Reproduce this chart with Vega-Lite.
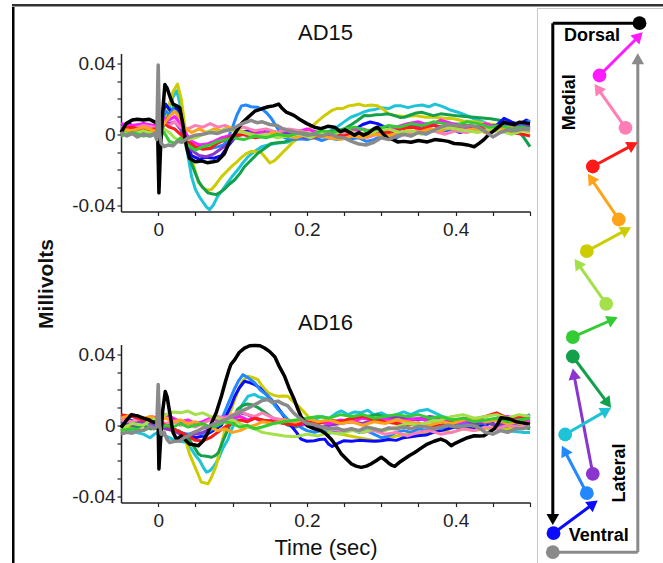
{
"$schema": "https://vega.github.io/schema/vega-lite/v6.json",
"background": "white",
"padding": {"left": 12, "top": 4, "right": 0, "bottom": 0},
"config": {
 "view": {"stroke": null},
 "title": {"font": "Liberation Sans", "fontSize": 22, "fontWeight": "normal", "color": "#111", "offset": 9},
 "axis": {"domainColor": "#222", "domainWidth": 1.5, "tickColor": "#222", "tickWidth": 1.2, "tickSize": 4, "labelFont": "Liberation Sans", "labelFontSize": 19, "labelColor": "#222", "grid": false, "labelOverlap": false, "labelFlush": false, "titleFont": "Liberation Sans", "titleColor": "#111"}
},
"datasets": {
"ad15": [
{"s":"k","t":-0.05,"v":0.001},{"s":"k","t":-0.043,"v":0.006},{"s":"k","t":-0.035,"v":0.008},{"s":"k","t":-0.028,"v":0.0085},{"s":"k","t":-0.02,"v":0.008},{"s":"k","t":-0.012,"v":0.0085},{"s":"k","t":-0.005,"v":0.007},{"s":"k","t":-0.001,"v":0.006},{"s":"k","t":0.001,"v":-0.033},{"s":"k","t":0.003,"v":-0.01},{"s":"k","t":0.006,"v":0.012},{"s":"k","t":0.009,"v":0.028},{"s":"k","t":0.012,"v":0.026},{"s":"k","t":0.016,"v":0.021},{"s":"k","t":0.02,"v":0.017},{"s":"k","t":0.025,"v":0.016},{"s":"k","t":0.029,"v":0.015},{"s":"k","t":0.033,"v":0.006},{"s":"k","t":0.038,"v":-0.007},{"s":"k","t":0.042,"v":-0.0135},{"s":"k","t":0.05,"v":-0.0155},{"s":"k","t":0.058,"v":-0.015},{"s":"k","t":0.066,"v":-0.016},{"s":"k","t":0.074,"v":-0.0155},{"s":"k","t":0.08,"v":-0.015},{"s":"k","t":0.089,"v":-0.011},{"s":"k","t":0.096,"v":-0.004},{"s":"k","t":0.104,"v":0.001},{"s":"k","t":0.112,"v":0.006},{"s":"k","t":0.122,"v":0.01},{"s":"k","t":0.13,"v":0.013},{"s":"k","t":0.14,"v":0.0145},{"s":"k","t":0.148,"v":0.0155},{"s":"k","t":0.155,"v":0.016},{"s":"k","t":0.162,"v":0.017},{"s":"k","t":0.167,"v":0.0145},{"s":"k","t":0.172,"v":0.0125},{"s":"k","t":0.178,"v":0.0115},{"s":"k","t":0.183,"v":0.0105},{"s":"k","t":0.19,"v":0.0085},{"s":"k","t":0.2,"v":0.006},{"s":"k","t":0.21,"v":0.004},{"s":"k","t":0.219,"v":0.0032},{"s":"k","t":0.228,"v":0.0045},{"s":"k","t":0.237,"v":0.004},{"s":"k","t":0.245,"v":0.0015},{"s":"k","t":0.251,"v":0.0025},{"s":"k","t":0.258,"v":0.001},{"s":"k","t":0.264,"v":-0.0006},{"s":"k","t":0.27,"v":0.001},{"s":"k","t":0.276,"v":-0.0005},{"s":"k","t":0.282,"v":0.0005},{"s":"k","t":0.29,"v":0.003},{"s":"k","t":0.295,"v":0.004},{"s":"k","t":0.302,"v":0.0005},{"s":"k","t":0.309,"v":-0.0025},{"s":"k","t":0.316,"v":-0.003},{"s":"k","t":0.322,"v":-0.0043},{"s":"k","t":0.33,"v":-0.004},{"s":"k","t":0.34,"v":-0.0045},{"s":"k","t":0.35,"v":-0.0035},{"s":"k","t":0.362,"v":-0.0043},{"s":"k","t":0.372,"v":-0.003},{"s":"k","t":0.38,"v":-0.0033},{"s":"k","t":0.39,"v":-0.004},{"s":"k","t":0.398,"v":-0.0052},{"s":"k","t":0.408,"v":-0.0055},{"s":"k","t":0.416,"v":-0.006},{"s":"k","t":0.425,"v":-0.007},{"s":"k","t":0.432,"v":-0.005},{"s":"k","t":0.438,"v":-0.003},{"s":"k","t":0.445,"v":0.0},{"s":"k","t":0.452,"v":0.0022},{"s":"k","t":0.46,"v":0.005},{"s":"k","t":0.465,"v":0.0068},{"s":"k","t":0.472,"v":0.006},{"s":"k","t":0.479,"v":0.0055},{"s":"k","t":0.486,"v":0.0068},{"s":"k","t":0.492,"v":0.0065},{"s":"k","t":0.5,"v":0.006},
{"s":"gy","t":-0.05,"v":0.001},{"s":"gy","t":-0.042,"v":-0.001},{"s":"gy","t":-0.035,"v":0.0005},{"s":"gy","t":-0.028,"v":-0.0015},{"s":"gy","t":-0.02,"v":0.0},{"s":"gy","t":-0.012,"v":-0.001},{"s":"gy","t":-0.005,"v":0.0005},{"s":"gy","t":-0.002,"v":-0.003},{"s":"gy","t":0.0,"v":0.039},{"s":"gy","t":0.002,"v":0.0},{"s":"gy","t":0.004,"v":-0.005},{"s":"gy","t":0.008,"v":-0.007},{"s":"gy","t":0.014,"v":-0.006},{"s":"gy","t":0.02,"v":-0.0065},{"s":"gy","t":0.026,"v":-0.004},{"s":"gy","t":0.032,"v":-0.0045},{"s":"gy","t":0.04,"v":-0.002},{"s":"gy","t":0.05,"v":-0.0005},{"s":"gy","t":0.06,"v":0.0},{"s":"gy","t":0.07,"v":0.001},{"s":"gy","t":0.08,"v":0.0005},{"s":"gy","t":0.09,"v":0.002},{"s":"gy","t":0.1,"v":0.003},{"s":"gy","t":0.108,"v":0.005},{"s":"gy","t":0.116,"v":0.0065},{"s":"gy","t":0.125,"v":0.0078},{"s":"gy","t":0.133,"v":0.0065},{"s":"gy","t":0.14,"v":0.007},{"s":"gy","t":0.15,"v":0.0055},{"s":"gy","t":0.16,"v":0.005},{"s":"gy","t":0.168,"v":0.003},{"s":"gy","t":0.175,"v":0.0022},{"s":"gy","t":0.185,"v":0.001},{"s":"gy","t":0.192,"v":0.0004},{"s":"gy","t":0.2,"v":-0.0005},{"s":"gy","t":0.21,"v":0.0},{"s":"gy","t":0.22,"v":-0.001},{"s":"gy","t":0.23,"v":0.0005},{"s":"gy","t":0.24,"v":-0.0015},{"s":"gy","t":0.25,"v":-0.002},{"s":"gy","t":0.26,"v":-0.004},{"s":"gy","t":0.27,"v":-0.0055},{"s":"gy","t":0.28,"v":-0.006},{"s":"gy","t":0.29,"v":-0.0045},{"s":"gy","t":0.3,"v":-0.002},{"s":"gy","t":0.31,"v":-0.003},{"s":"gy","t":0.32,"v":-0.001},{"s":"gy","t":0.33,"v":0.0},{"s":"gy","t":0.34,"v":-0.001},{"s":"gy","t":0.35,"v":0.001},{"s":"gy","t":0.36,"v":0.0005},{"s":"gy","t":0.37,"v":0.002},{"s":"gy","t":0.38,"v":0.004},{"s":"gy","t":0.39,"v":0.0055},{"s":"gy","t":0.4,"v":0.005},{"s":"gy","t":0.41,"v":0.0045},{"s":"gy","t":0.42,"v":0.005},{"s":"gy","t":0.43,"v":0.004},{"s":"gy","t":0.44,"v":0.0015},{"s":"gy","t":0.45,"v":-0.0015},{"s":"gy","t":0.46,"v":0.001},{"s":"gy","t":0.47,"v":0.0025},{"s":"gy","t":0.48,"v":0.002},{"s":"gy","t":0.49,"v":0.003},{"s":"gy","t":0.5,"v":0.0025},
{"s":"cy","t":-0.05,"v":0.0},{"s":"cy","t":-0.04,"v":0.002},{"s":"cy","t":-0.03,"v":0.001},{"s":"cy","t":-0.02,"v":0.003},{"s":"cy","t":-0.01,"v":0.001},{"s":"cy","t":0.0,"v":0.002},{"s":"cy","t":0.005,"v":0.004},{"s":"cy","t":0.01,"v":0.009},{"s":"cy","t":0.015,"v":0.015},{"s":"cy","t":0.02,"v":0.021},{"s":"cy","t":0.025,"v":0.0245},{"s":"cy","t":0.03,"v":0.016},{"s":"cy","t":0.036,"v":0.0},{"s":"cy","t":0.04,"v":-0.012},{"s":"cy","t":0.045,"v":-0.024},{"s":"cy","t":0.05,"v":-0.031},{"s":"cy","t":0.055,"v":-0.035},{"s":"cy","t":0.06,"v":-0.038},{"s":"cy","t":0.065,"v":-0.041},{"s":"cy","t":0.069,"v":-0.0425},{"s":"cy","t":0.074,"v":-0.04},{"s":"cy","t":0.08,"v":-0.035},{"s":"cy","t":0.087,"v":-0.031},{"s":"cy","t":0.094,"v":-0.027},{"s":"cy","t":0.1,"v":-0.0235},{"s":"cy","t":0.107,"v":-0.02},{"s":"cy","t":0.114,"v":-0.016},{"s":"cy","t":0.121,"v":-0.0126},{"s":"cy","t":0.13,"v":-0.0095},{"s":"cy","t":0.139,"v":-0.007},{"s":"cy","t":0.148,"v":-0.006},{"s":"cy","t":0.157,"v":-0.0052},{"s":"cy","t":0.166,"v":-0.0048},{"s":"cy","t":0.175,"v":-0.0043},{"s":"cy","t":0.184,"v":-0.003},{"s":"cy","t":0.192,"v":-0.0024},{"s":"cy","t":0.2,"v":-0.0015},{"s":"cy","t":0.21,"v":-0.0005},{"s":"cy","t":0.22,"v":0.0},{"s":"cy","t":0.23,"v":0.0015},{"s":"cy","t":0.24,"v":0.004},{"s":"cy","t":0.25,"v":0.007},{"s":"cy","t":0.259,"v":0.0096},{"s":"cy","t":0.268,"v":0.011},{"s":"cy","t":0.276,"v":0.0125},{"s":"cy","t":0.284,"v":0.0135},{"s":"cy","t":0.292,"v":0.014},{"s":"cy","t":0.3,"v":0.015},{"s":"cy","t":0.31,"v":0.0145},{"s":"cy","t":0.318,"v":0.016},{"s":"cy","t":0.327,"v":0.016},{"s":"cy","t":0.336,"v":0.015},{"s":"cy","t":0.345,"v":0.016},{"s":"cy","t":0.355,"v":0.0165},{"s":"cy","t":0.364,"v":0.0155},{"s":"cy","t":0.372,"v":0.017},{"s":"cy","t":0.38,"v":0.016},{"s":"cy","t":0.385,"v":0.0152},{"s":"cy","t":0.394,"v":0.0135},{"s":"cy","t":0.403,"v":0.0124},{"s":"cy","t":0.412,"v":0.011},{"s":"cy","t":0.425,"v":0.0087},{"s":"cy","t":0.434,"v":0.0075},{"s":"cy","t":0.443,"v":0.0059},{"s":"cy","t":0.452,"v":0.005},{"s":"cy","t":0.461,"v":0.0041},{"s":"cy","t":0.47,"v":0.0035},{"s":"cy","t":0.48,"v":0.004},{"s":"cy","t":0.49,"v":0.0045},{"s":"cy","t":0.5,"v":0.004},
{"s":"yl","t":-0.05,"v":0.002},{"s":"yl","t":-0.04,"v":0.001},{"s":"yl","t":-0.03,"v":0.003},{"s":"yl","t":-0.02,"v":0.001},{"s":"yl","t":-0.01,"v":0.002},{"s":"yl","t":0.0,"v":0.001},{"s":"yl","t":0.005,"v":0.004},{"s":"yl","t":0.01,"v":0.01},{"s":"yl","t":0.015,"v":0.017},{"s":"yl","t":0.02,"v":0.024},{"s":"yl","t":0.026,"v":0.0283},{"s":"yl","t":0.031,"v":0.02},{"s":"yl","t":0.036,"v":0.004},{"s":"yl","t":0.04,"v":-0.006},{"s":"yl","t":0.045,"v":-0.0144},{"s":"yl","t":0.05,"v":-0.021},{"s":"yl","t":0.054,"v":-0.027},{"s":"yl","t":0.059,"v":-0.0295},{"s":"yl","t":0.063,"v":-0.031},{"s":"yl","t":0.068,"v":-0.0315},{"s":"yl","t":0.072,"v":-0.031},{"s":"yl","t":0.078,"v":-0.028},{"s":"yl","t":0.085,"v":-0.024},{"s":"yl","t":0.092,"v":-0.021},{"s":"yl","t":0.099,"v":-0.018},{"s":"yl","t":0.106,"v":-0.0155},{"s":"yl","t":0.112,"v":-0.013},{"s":"yl","t":0.118,"v":-0.011},{"s":"yl","t":0.125,"v":-0.0096},{"s":"yl","t":0.132,"v":-0.0098},{"s":"yl","t":0.139,"v":-0.0106},{"s":"yl","t":0.145,"v":-0.0135},{"s":"yl","t":0.15,"v":-0.0161},{"s":"yl","t":0.156,"v":-0.015},{"s":"yl","t":0.161,"v":-0.013},{"s":"yl","t":0.168,"v":-0.01},{"s":"yl","t":0.175,"v":-0.0071},{"s":"yl","t":0.181,"v":-0.0045},{"s":"yl","t":0.188,"v":-0.0024},{"s":"yl","t":0.197,"v":0.0008},{"s":"yl","t":0.206,"v":0.0041},{"s":"yl","t":0.215,"v":0.0075},{"s":"yl","t":0.224,"v":0.0106},{"s":"yl","t":0.233,"v":0.0133},{"s":"yl","t":0.24,"v":0.0145},{"s":"yl","t":0.248,"v":0.0145},{"s":"yl","t":0.256,"v":0.016},{"s":"yl","t":0.264,"v":0.0165},{"s":"yl","t":0.27,"v":0.017},{"s":"yl","t":0.278,"v":0.016},{"s":"yl","t":0.286,"v":0.0165},{"s":"yl","t":0.295,"v":0.0161},{"s":"yl","t":0.303,"v":0.014},{"s":"yl","t":0.31,"v":0.0115},{"s":"yl","t":0.318,"v":0.0106},{"s":"yl","t":0.33,"v":0.01},{"s":"yl","t":0.345,"v":0.0105},{"s":"yl","t":0.36,"v":0.0096},{"s":"yl","t":0.372,"v":0.0096},{"s":"yl","t":0.385,"v":0.009},{"s":"yl","t":0.398,"v":0.0087},{"s":"yl","t":0.41,"v":0.0075},{"s":"yl","t":0.425,"v":0.007},{"s":"yl","t":0.443,"v":0.0059},{"s":"yl","t":0.46,"v":0.005},{"s":"yl","t":0.475,"v":0.0045},{"s":"yl","t":0.49,"v":0.004},{"s":"yl","t":0.5,"v":0.004},
{"s":"dg","t":-0.05,"v":0.002},{"s":"dg","t":-0.04,"v":0.0},{"s":"dg","t":-0.03,"v":0.002},{"s":"dg","t":-0.02,"v":0.001},{"s":"dg","t":-0.01,"v":-0.001},{"s":"dg","t":0.0,"v":0.001},{"s":"dg","t":0.005,"v":0.003},{"s":"dg","t":0.01,"v":0.007},{"s":"dg","t":0.015,"v":0.011},{"s":"dg","t":0.02,"v":0.015},{"s":"dg","t":0.025,"v":0.014},{"s":"dg","t":0.03,"v":0.008},{"s":"dg","t":0.035,"v":-0.002},{"s":"dg","t":0.04,"v":-0.009},{"s":"dg","t":0.045,"v":-0.0167},{"s":"dg","t":0.05,"v":-0.022},{"s":"dg","t":0.055,"v":-0.027},{"s":"dg","t":0.06,"v":-0.03},{"s":"dg","t":0.067,"v":-0.033},{"s":"dg","t":0.072,"v":-0.0335},{"s":"dg","t":0.078,"v":-0.034},{"s":"dg","t":0.084,"v":-0.0325},{"s":"dg","t":0.089,"v":-0.031},{"s":"dg","t":0.096,"v":-0.028},{"s":"dg","t":0.103,"v":-0.0256},{"s":"dg","t":0.11,"v":-0.022},{"s":"dg","t":0.116,"v":-0.0183},{"s":"dg","t":0.125,"v":-0.0145},{"s":"dg","t":0.134,"v":-0.0107},{"s":"dg","t":0.143,"v":-0.008},{"s":"dg","t":0.152,"v":-0.0052},{"s":"dg","t":0.161,"v":-0.0047},{"s":"dg","t":0.17,"v":-0.0043},{"s":"dg","t":0.179,"v":-0.003},{"s":"dg","t":0.188,"v":-0.0024},{"s":"dg","t":0.199,"v":-0.001},{"s":"dg","t":0.21,"v":0.0004},{"s":"dg","t":0.22,"v":0.001},{"s":"dg","t":0.23,"v":0.0015},{"s":"dg","t":0.24,"v":0.002},{"s":"dg","t":0.25,"v":0.003},{"s":"dg","t":0.26,"v":0.0055},{"s":"dg","t":0.268,"v":0.0078},{"s":"dg","t":0.277,"v":0.0106},{"s":"dg","t":0.285,"v":0.0105},{"s":"dg","t":0.293,"v":0.011},{"s":"dg","t":0.301,"v":0.0112},{"s":"dg","t":0.309,"v":0.0115},{"s":"dg","t":0.318,"v":0.0105},{"s":"dg","t":0.325,"v":0.0095},{"s":"dg","t":0.331,"v":0.0096},{"s":"dg","t":0.34,"v":0.011},{"s":"dg","t":0.347,"v":0.012},{"s":"dg","t":0.354,"v":0.0124},{"s":"dg","t":0.362,"v":0.0115},{"s":"dg","t":0.37,"v":0.0105},{"s":"dg","t":0.38,"v":0.0115},{"s":"dg","t":0.39,"v":0.011},{"s":"dg","t":0.4,"v":0.0105},{"s":"dg","t":0.412,"v":0.01},{"s":"dg","t":0.425,"v":0.0096},{"s":"dg","t":0.436,"v":0.0092},{"s":"dg","t":0.447,"v":0.0088},{"s":"dg","t":0.461,"v":0.0078},{"s":"dg","t":0.47,"v":0.006},{"s":"dg","t":0.479,"v":0.004},{"s":"dg","t":0.486,"v":0.001},{"s":"dg","t":0.492,"v":-0.002},{"s":"dg","t":0.5,"v":-0.007},
{"s":"db","t":-0.05,"v":0.005},{"s":"db","t":-0.04,"v":0.006},{"s":"db","t":-0.03,"v":0.004},{"s":"db","t":-0.02,"v":0.006},{"s":"db","t":-0.01,"v":0.005},{"s":"db","t":0.0,"v":0.004},{"s":"db","t":0.005,"v":0.01},{"s":"db","t":0.01,"v":0.017},{"s":"db","t":0.015,"v":0.014},{"s":"db","t":0.02,"v":0.012},{"s":"db","t":0.025,"v":0.0155},{"s":"db","t":0.03,"v":0.012},{"s":"db","t":0.035,"v":0.002},{"s":"db","t":0.04,"v":-0.007},{"s":"db","t":0.045,"v":-0.012},{"s":"db","t":0.055,"v":-0.014},{"s":"db","t":0.065,"v":-0.013},{"s":"db","t":0.075,"v":-0.0135},{"s":"db","t":0.085,"v":-0.012},{"s":"db","t":0.095,"v":-0.006},{"s":"db","t":0.105,"v":-0.001},{"s":"db","t":0.115,"v":0.0015},{"s":"db","t":0.125,"v":0.002},{"s":"db","t":0.135,"v":0.001},{"s":"db","t":0.145,"v":0.0025},{"s":"db","t":0.155,"v":0.0015},{"s":"db","t":0.165,"v":0.0},{"s":"db","t":0.175,"v":-0.0015},{"s":"db","t":0.185,"v":-0.001},{"s":"db","t":0.195,"v":-0.002},{"s":"db","t":0.205,"v":-0.001},{"s":"db","t":0.215,"v":-0.002},{"s":"db","t":0.225,"v":0.0},{"s":"db","t":0.235,"v":-0.001},{"s":"db","t":0.245,"v":-0.002},{"s":"db","t":0.255,"v":0.0005},{"s":"db","t":0.265,"v":0.003},{"s":"db","t":0.275,"v":0.0055},{"s":"db","t":0.285,"v":0.0069},{"s":"db","t":0.295,"v":0.006},{"s":"db","t":0.305,"v":0.004},{"s":"db","t":0.315,"v":0.002},{"s":"db","t":0.325,"v":0.003},{"s":"db","t":0.335,"v":0.004},{"s":"db","t":0.345,"v":0.005},{"s":"db","t":0.355,"v":0.0055},{"s":"db","t":0.365,"v":0.006},{"s":"db","t":0.375,"v":0.0045},{"s":"db","t":0.385,"v":0.002},{"s":"db","t":0.395,"v":0.003},{"s":"db","t":0.405,"v":0.001},{"s":"db","t":0.415,"v":0.002},{"s":"db","t":0.425,"v":0.004},{"s":"db","t":0.435,"v":0.002},{"s":"db","t":0.445,"v":0.004},{"s":"db","t":0.455,"v":0.005},{"s":"db","t":0.465,"v":0.009},{"s":"db","t":0.475,"v":0.007},{"s":"db","t":0.485,"v":0.0055},{"s":"db","t":0.495,"v":0.008},{"s":"db","t":0.5,"v":0.007},
{"s":"bl","t":-0.05,"v":0.003},{"s":"bl","t":-0.04,"v":0.004},{"s":"bl","t":-0.03,"v":0.002},{"s":"bl","t":-0.02,"v":0.004},{"s":"bl","t":-0.01,"v":0.003},{"s":"bl","t":0.0,"v":0.002},{"s":"bl","t":0.005,"v":0.007},{"s":"bl","t":0.01,"v":0.013},{"s":"bl","t":0.015,"v":0.011},{"s":"bl","t":0.02,"v":0.014},{"s":"bl","t":0.025,"v":0.012},{"s":"bl","t":0.03,"v":0.006},{"s":"bl","t":0.035,"v":-0.001},{"s":"bl","t":0.04,"v":-0.005},{"s":"bl","t":0.05,"v":-0.008},{"s":"bl","t":0.06,"v":-0.0075},{"s":"bl","t":0.07,"v":-0.008},{"s":"bl","t":0.08,"v":-0.007},{"s":"bl","t":0.088,"v":-0.006},{"s":"bl","t":0.093,"v":-0.003},{"s":"bl","t":0.1,"v":0.004},{"s":"bl","t":0.106,"v":0.011},{"s":"bl","t":0.112,"v":0.016},{"s":"bl","t":0.118,"v":0.0165},{"s":"bl","t":0.125,"v":0.0155},{"s":"bl","t":0.134,"v":0.0152},{"s":"bl","t":0.14,"v":0.014},{"s":"bl","t":0.146,"v":0.012},{"s":"bl","t":0.152,"v":0.009},{"s":"bl","t":0.158,"v":0.005},{"s":"bl","t":0.164,"v":0.001},{"s":"bl","t":0.17,"v":-0.002},{"s":"bl","t":0.18,"v":-0.003},{"s":"bl","t":0.19,"v":-0.0025},{"s":"bl","t":0.2,"v":-0.003},{"s":"bl","t":0.21,"v":-0.002},{"s":"bl","t":0.22,"v":-0.0035},{"s":"bl","t":0.23,"v":-0.002},{"s":"bl","t":0.24,"v":-0.003},{"s":"bl","t":0.25,"v":-0.001},{"s":"bl","t":0.26,"v":-0.0025},{"s":"bl","t":0.27,"v":-0.002},{"s":"bl","t":0.28,"v":-0.004},{"s":"bl","t":0.29,"v":-0.003},{"s":"bl","t":0.3,"v":-0.001},{"s":"bl","t":0.31,"v":0.0},{"s":"bl","t":0.32,"v":-0.002},{"s":"bl","t":0.33,"v":0.0},{"s":"bl","t":0.34,"v":0.001},{"s":"bl","t":0.35,"v":0.0015},{"s":"bl","t":0.36,"v":0.0},{"s":"bl","t":0.37,"v":0.002},{"s":"bl","t":0.38,"v":0.001},{"s":"bl","t":0.39,"v":0.003},{"s":"bl","t":0.4,"v":0.002},{"s":"bl","t":0.41,"v":0.0015},{"s":"bl","t":0.42,"v":0.003},{"s":"bl","t":0.43,"v":0.002},{"s":"bl","t":0.44,"v":0.004},{"s":"bl","t":0.45,"v":0.003},{"s":"bl","t":0.46,"v":0.005},{"s":"bl","t":0.47,"v":0.004},{"s":"bl","t":0.48,"v":0.005},{"s":"bl","t":0.49,"v":0.006},{"s":"bl","t":0.5,"v":0.0075},
{"s":"pu","t":-0.05,"v":0.004},{"s":"pu","t":-0.035,"v":0.005},{"s":"pu","t":-0.02,"v":0.003},{"s":"pu","t":-0.005,"v":0.004},{"s":"pu","t":0.0,"v":0.003},{"s":"pu","t":0.008,"v":0.008},{"s":"pu","t":0.015,"v":0.006},{"s":"pu","t":0.022,"v":0.007},{"s":"pu","t":0.03,"v":0.003},{"s":"pu","t":0.037,"v":-0.004},{"s":"pu","t":0.045,"v":-0.009},{"s":"pu","t":0.055,"v":-0.012},{"s":"pu","t":0.065,"v":-0.0126},{"s":"pu","t":0.075,"v":-0.011},{"s":"pu","t":0.085,"v":-0.008},{"s":"pu","t":0.095,"v":-0.005},{"s":"pu","t":0.105,"v":-0.001},{"s":"pu","t":0.115,"v":0.0},{"s":"pu","t":0.125,"v":0.001},{"s":"pu","t":0.14,"v":0.0},{"s":"pu","t":0.155,"v":-0.001},{"s":"pu","t":0.17,"v":0.001},{"s":"pu","t":0.185,"v":-0.001},{"s":"pu","t":0.2,"v":-0.002},{"s":"pu","t":0.215,"v":0.0},{"s":"pu","t":0.23,"v":-0.002},{"s":"pu","t":0.245,"v":-0.0005},{"s":"pu","t":0.26,"v":0.001},{"s":"pu","t":0.275,"v":0.0},{"s":"pu","t":0.29,"v":0.002},{"s":"pu","t":0.305,"v":0.001},{"s":"pu","t":0.32,"v":0.003},{"s":"pu","t":0.335,"v":0.005},{"s":"pu","t":0.35,"v":0.004},{"s":"pu","t":0.365,"v":0.006},{"s":"pu","t":0.38,"v":0.007},{"s":"pu","t":0.395,"v":0.006},{"s":"pu","t":0.41,"v":0.0055},{"s":"pu","t":0.425,"v":0.004},{"s":"pu","t":0.44,"v":0.0045},{"s":"pu","t":0.455,"v":0.005},{"s":"pu","t":0.47,"v":0.006},{"s":"pu","t":0.485,"v":0.004},{"s":"pu","t":0.5,"v":0.005},
{"s":"mg","t":-0.05,"v":0.006},{"s":"mg","t":-0.035,"v":0.005},{"s":"mg","t":-0.02,"v":0.006},{"s":"mg","t":-0.005,"v":0.005},{"s":"mg","t":0.0,"v":0.004},{"s":"mg","t":0.008,"v":0.009},{"s":"mg","t":0.015,"v":0.008},{"s":"mg","t":0.022,"v":0.01},{"s":"mg","t":0.03,"v":0.006},{"s":"mg","t":0.038,"v":0.0},{"s":"mg","t":0.045,"v":-0.004},{"s":"mg","t":0.055,"v":-0.006},{"s":"mg","t":0.065,"v":-0.0055},{"s":"mg","t":0.075,"v":-0.004},{"s":"mg","t":0.085,"v":-0.002},{"s":"mg","t":0.095,"v":-0.001},{"s":"mg","t":0.11,"v":0.0},{"s":"mg","t":0.125,"v":-0.001},{"s":"mg","t":0.14,"v":0.001},{"s":"mg","t":0.155,"v":0.0},{"s":"mg","t":0.17,"v":0.003},{"s":"mg","t":0.185,"v":0.001},{"s":"mg","t":0.2,"v":0.003},{"s":"mg","t":0.215,"v":0.001},{"s":"mg","t":0.23,"v":-0.001},{"s":"mg","t":0.245,"v":0.0},{"s":"mg","t":0.26,"v":0.002},{"s":"mg","t":0.275,"v":0.003},{"s":"mg","t":0.29,"v":0.001},{"s":"mg","t":0.305,"v":0.002},{"s":"mg","t":0.32,"v":0.004},{"s":"mg","t":0.335,"v":0.006},{"s":"mg","t":0.35,"v":0.007},{"s":"mg","t":0.365,"v":0.005},{"s":"mg","t":0.38,"v":0.008},{"s":"mg","t":0.395,"v":0.006},{"s":"mg","t":0.41,"v":0.004},{"s":"mg","t":0.425,"v":0.003},{"s":"mg","t":0.44,"v":0.006},{"s":"mg","t":0.455,"v":0.004},{"s":"mg","t":0.47,"v":0.002},{"s":"mg","t":0.485,"v":0.004},{"s":"mg","t":0.5,"v":0.003},
{"s":"pk","t":-0.05,"v":0.004},{"s":"pk","t":-0.035,"v":0.003},{"s":"pk","t":-0.02,"v":0.005},{"s":"pk","t":-0.005,"v":0.004},{"s":"pk","t":0.0,"v":0.002},{"s":"pk","t":0.008,"v":0.006},{"s":"pk","t":0.015,"v":0.005},{"s":"pk","t":0.022,"v":0.007},{"s":"pk","t":0.03,"v":0.004},{"s":"pk","t":0.04,"v":0.003},{"s":"pk","t":0.05,"v":0.005},{"s":"pk","t":0.06,"v":0.004},{"s":"pk","t":0.07,"v":0.006},{"s":"pk","t":0.08,"v":0.004},{"s":"pk","t":0.09,"v":0.005},{"s":"pk","t":0.1,"v":0.003},{"s":"pk","t":0.115,"v":0.004},{"s":"pk","t":0.13,"v":0.002},{"s":"pk","t":0.145,"v":0.003},{"s":"pk","t":0.16,"v":0.001},{"s":"pk","t":0.175,"v":0.003},{"s":"pk","t":0.19,"v":0.002},{"s":"pk","t":0.205,"v":0.0},{"s":"pk","t":0.22,"v":0.001},{"s":"pk","t":0.235,"v":-0.001},{"s":"pk","t":0.25,"v":0.0},{"s":"pk","t":0.265,"v":0.001},{"s":"pk","t":0.28,"v":-0.002},{"s":"pk","t":0.295,"v":0.0},{"s":"pk","t":0.31,"v":0.001},{"s":"pk","t":0.325,"v":-0.001},{"s":"pk","t":0.34,"v":0.001},{"s":"pk","t":0.355,"v":0.003},{"s":"pk","t":0.37,"v":0.002},{"s":"pk","t":0.385,"v":0.0},{"s":"pk","t":0.4,"v":0.002},{"s":"pk","t":0.415,"v":0.001},{"s":"pk","t":0.43,"v":0.003},{"s":"pk","t":0.445,"v":0.004},{"s":"pk","t":0.46,"v":0.002},{"s":"pk","t":0.475,"v":0.001},{"s":"pk","t":0.49,"v":0.003},{"s":"pk","t":0.5,"v":0.002},
{"s":"rd","t":-0.05,"v":0.003},{"s":"rd","t":-0.035,"v":0.004},{"s":"rd","t":-0.02,"v":0.002},{"s":"rd","t":-0.005,"v":0.003},{"s":"rd","t":0.0,"v":0.002},{"s":"rd","t":0.008,"v":0.006},{"s":"rd","t":0.015,"v":0.004},{"s":"rd","t":0.022,"v":0.003},{"s":"rd","t":0.03,"v":0.0},{"s":"rd","t":0.04,"v":-0.004},{"s":"rd","t":0.05,"v":-0.007},{"s":"rd","t":0.06,"v":-0.0085},{"s":"rd","t":0.07,"v":-0.008},{"s":"rd","t":0.08,"v":-0.005},{"s":"rd","t":0.09,"v":-0.003},{"s":"rd","t":0.1,"v":-0.001},{"s":"rd","t":0.115,"v":0.0},{"s":"rd","t":0.13,"v":-0.002},{"s":"rd","t":0.145,"v":-0.001},{"s":"rd","t":0.16,"v":0.0},{"s":"rd","t":0.175,"v":-0.001},{"s":"rd","t":0.19,"v":0.0},{"s":"rd","t":0.205,"v":-0.002},{"s":"rd","t":0.22,"v":-0.001},{"s":"rd","t":0.235,"v":0.0},{"s":"rd","t":0.25,"v":-0.001},{"s":"rd","t":0.265,"v":0.001},{"s":"rd","t":0.28,"v":0.0},{"s":"rd","t":0.295,"v":0.002},{"s":"rd","t":0.31,"v":0.001},{"s":"rd","t":0.325,"v":0.003},{"s":"rd","t":0.34,"v":0.004},{"s":"rd","t":0.355,"v":0.003},{"s":"rd","t":0.37,"v":0.005},{"s":"rd","t":0.385,"v":0.004},{"s":"rd","t":0.4,"v":0.003},{"s":"rd","t":0.415,"v":0.005},{"s":"rd","t":0.43,"v":0.004},{"s":"rd","t":0.445,"v":0.002},{"s":"rd","t":0.46,"v":0.003},{"s":"rd","t":0.475,"v":0.001},{"s":"rd","t":0.49,"v":0.0},{"s":"rd","t":0.5,"v":-0.001},
{"s":"or","t":-0.05,"v":0.003},{"s":"or","t":-0.035,"v":0.002},{"s":"or","t":-0.02,"v":0.004},{"s":"or","t":-0.005,"v":0.002},{"s":"or","t":0.0,"v":0.001},{"s":"or","t":0.008,"v":0.006},{"s":"or","t":0.015,"v":0.01},{"s":"or","t":0.022,"v":0.013},{"s":"or","t":0.028,"v":0.01},{"s":"or","t":0.035,"v":0.004},{"s":"or","t":0.045,"v":0.001},{"s":"or","t":0.055,"v":0.003},{"s":"or","t":0.065,"v":0.001},{"s":"or","t":0.075,"v":0.003},{"s":"or","t":0.085,"v":0.002},{"s":"or","t":0.095,"v":0.004},{"s":"or","t":0.11,"v":0.002},{"s":"or","t":0.125,"v":0.0},{"s":"or","t":0.14,"v":-0.001},{"s":"or","t":0.155,"v":0.001},{"s":"or","t":0.17,"v":-0.001},{"s":"or","t":0.185,"v":-0.002},{"s":"or","t":0.2,"v":0.0},{"s":"or","t":0.215,"v":-0.001},{"s":"or","t":0.23,"v":-0.002},{"s":"or","t":0.245,"v":-0.003},{"s":"or","t":0.26,"v":-0.001},{"s":"or","t":0.275,"v":-0.002},{"s":"or","t":0.29,"v":0.0},{"s":"or","t":0.305,"v":-0.001},{"s":"or","t":0.32,"v":0.0},{"s":"or","t":0.335,"v":0.002},{"s":"or","t":0.35,"v":0.001},{"s":"or","t":0.365,"v":0.003},{"s":"or","t":0.38,"v":0.002},{"s":"or","t":0.395,"v":0.004},{"s":"or","t":0.41,"v":0.002},{"s":"or","t":0.425,"v":0.003},{"s":"or","t":0.44,"v":0.001},{"s":"or","t":0.455,"v":0.002},{"s":"or","t":0.47,"v":0.004},{"s":"or","t":0.485,"v":0.003},{"s":"or","t":0.5,"v":0.002},
{"s":"lg","t":-0.05,"v":0.001},{"s":"lg","t":-0.035,"v":0.0},{"s":"lg","t":-0.02,"v":0.002},{"s":"lg","t":-0.005,"v":0.0},{"s":"lg","t":0.0,"v":-0.001},{"s":"lg","t":0.008,"v":0.003},{"s":"lg","t":0.015,"v":0.001},{"s":"lg","t":0.022,"v":-0.002},{"s":"lg","t":0.03,"v":-0.004},{"s":"lg","t":0.04,"v":-0.003},{"s":"lg","t":0.05,"v":-0.002},{"s":"lg","t":0.06,"v":0.0},{"s":"lg","t":0.07,"v":0.002},{"s":"lg","t":0.08,"v":0.001},{"s":"lg","t":0.09,"v":0.003},{"s":"lg","t":0.1,"v":0.002},{"s":"lg","t":0.115,"v":0.001},{"s":"lg","t":0.13,"v":-0.001},{"s":"lg","t":0.145,"v":0.0},{"s":"lg","t":0.16,"v":-0.002},{"s":"lg","t":0.175,"v":-0.001},{"s":"lg","t":0.19,"v":0.0},{"s":"lg","t":0.205,"v":-0.002},{"s":"lg","t":0.22,"v":0.001},{"s":"lg","t":0.235,"v":0.0},{"s":"lg","t":0.25,"v":0.002},{"s":"lg","t":0.265,"v":0.001},{"s":"lg","t":0.28,"v":0.0},{"s":"lg","t":0.295,"v":0.002},{"s":"lg","t":0.31,"v":0.003},{"s":"lg","t":0.325,"v":0.001},{"s":"lg","t":0.34,"v":0.002},{"s":"lg","t":0.355,"v":0.0},{"s":"lg","t":0.37,"v":0.002},{"s":"lg","t":0.385,"v":0.004},{"s":"lg","t":0.4,"v":0.003},{"s":"lg","t":0.415,"v":0.002},{"s":"lg","t":0.43,"v":0.001},{"s":"lg","t":0.445,"v":0.003},{"s":"lg","t":0.46,"v":0.002},{"s":"lg","t":0.475,"v":0.0},{"s":"lg","t":0.49,"v":0.002},{"s":"lg","t":0.5,"v":0.001},
{"s":"gn","t":-0.05,"v":-0.001},{"s":"gn","t":-0.035,"v":0.001},{"s":"gn","t":-0.02,"v":-0.001},{"s":"gn","t":-0.005,"v":0.0},{"s":"gn","t":0.0,"v":-0.002},{"s":"gn","t":0.008,"v":0.001},{"s":"gn","t":0.015,"v":-0.004},{"s":"gn","t":0.022,"v":-0.005},{"s":"gn","t":0.03,"v":-0.002},{"s":"gn","t":0.04,"v":-0.006},{"s":"gn","t":0.05,"v":-0.009},{"s":"gn","t":0.06,"v":-0.007},{"s":"gn","t":0.07,"v":-0.006},{"s":"gn","t":0.08,"v":-0.004},{"s":"gn","t":0.09,"v":-0.003},{"s":"gn","t":0.1,"v":-0.002},{"s":"gn","t":0.115,"v":-0.003},{"s":"gn","t":0.13,"v":-0.001},{"s":"gn","t":0.145,"v":-0.002},{"s":"gn","t":0.16,"v":0.0},{"s":"gn","t":0.175,"v":-0.001},{"s":"gn","t":0.19,"v":0.001},{"s":"gn","t":0.205,"v":0.0},{"s":"gn","t":0.22,"v":0.002},{"s":"gn","t":0.235,"v":0.001},{"s":"gn","t":0.25,"v":0.003},{"s":"gn","t":0.265,"v":0.004},{"s":"gn","t":0.28,"v":0.002},{"s":"gn","t":0.295,"v":0.003},{"s":"gn","t":0.31,"v":0.005},{"s":"gn","t":0.325,"v":0.004},{"s":"gn","t":0.34,"v":0.006},{"s":"gn","t":0.355,"v":0.005},{"s":"gn","t":0.37,"v":0.007},{"s":"gn","t":0.385,"v":0.006},{"s":"gn","t":0.4,"v":0.005},{"s":"gn","t":0.415,"v":0.007},{"s":"gn","t":0.43,"v":0.006},{"s":"gn","t":0.445,"v":0.004},{"s":"gn","t":0.46,"v":0.005},{"s":"gn","t":0.475,"v":0.003},{"s":"gn","t":0.49,"v":0.004},{"s":"gn","t":0.5,"v":0.003}
],
"ad16": [
{"s":"k","t":-0.05,"v":-0.0013},{"s":"k","t":-0.044,"v":0.002},{"s":"k","t":-0.036,"v":0.006},{"s":"k","t":-0.031,"v":0.0055},{"s":"k","t":-0.027,"v":0.0052},{"s":"k","t":-0.02,"v":0.004},{"s":"k","t":-0.014,"v":0.0033},{"s":"k","t":-0.008,"v":0.002},{"s":"k","t":-0.003,"v":0.0015},{"s":"k","t":0.0,"v":0.0},{"s":"k","t":0.001,"v":-0.0246},{"s":"k","t":0.003,"v":-0.01},{"s":"k","t":0.006,"v":0.008},{"s":"k","t":0.0095,"v":0.019},{"s":"k","t":0.012,"v":0.016},{"s":"k","t":0.0156,"v":0.007},{"s":"k","t":0.02,"v":-0.004},{"s":"k","t":0.0246,"v":-0.0078},{"s":"k","t":0.028,"v":-0.007},{"s":"k","t":0.031,"v":-0.006},{"s":"k","t":0.036,"v":-0.008},{"s":"k","t":0.042,"v":-0.0106},{"s":"k","t":0.048,"v":-0.011},{"s":"k","t":0.054,"v":-0.0115},{"s":"k","t":0.06,"v":-0.009},{"s":"k","t":0.066,"v":-0.005},{"s":"k","t":0.072,"v":0.0015},{"s":"k","t":0.078,"v":0.007},{"s":"k","t":0.085,"v":0.0164},{"s":"k","t":0.09,"v":0.024},{"s":"k","t":0.095,"v":0.031},{"s":"k","t":0.098,"v":0.0345},{"s":"k","t":0.103,"v":0.037},{"s":"k","t":0.109,"v":0.041},{"s":"k","t":0.116,"v":0.0435},{"s":"k","t":0.123,"v":0.0448},{"s":"k","t":0.13,"v":0.045},{"s":"k","t":0.137,"v":0.0448},{"s":"k","t":0.143,"v":0.0435},{"s":"k","t":0.15,"v":0.0415},{"s":"k","t":0.157,"v":0.0385},{"s":"k","t":0.163,"v":0.033},{"s":"k","t":0.17,"v":0.0276},{"s":"k","t":0.176,"v":0.021},{"s":"k","t":0.183,"v":0.0145},{"s":"k","t":0.188,"v":0.009},{"s":"k","t":0.192,"v":0.005},{"s":"k","t":0.197,"v":0.002},{"s":"k","t":0.201,"v":-0.0004},{"s":"k","t":0.21,"v":-0.002},{"s":"k","t":0.219,"v":-0.003},{"s":"k","t":0.226,"v":-0.005},{"s":"k","t":0.233,"v":-0.008},{"s":"k","t":0.24,"v":-0.012},{"s":"k","t":0.246,"v":-0.016},{"s":"k","t":0.253,"v":-0.019},{"s":"k","t":0.26,"v":-0.0218},{"s":"k","t":0.266,"v":-0.023},{"s":"k","t":0.273,"v":-0.0237},{"s":"k","t":0.28,"v":-0.023},{"s":"k","t":0.286,"v":-0.0218},{"s":"k","t":0.293,"v":-0.02},{"s":"k","t":0.3,"v":-0.018},{"s":"k","t":0.305,"v":-0.0195},{"s":"k","t":0.309,"v":-0.021},{"s":"k","t":0.314,"v":-0.0225},{"s":"k","t":0.318,"v":-0.0231},{"s":"k","t":0.324,"v":-0.021},{"s":"k","t":0.331,"v":-0.019},{"s":"k","t":0.338,"v":-0.017},{"s":"k","t":0.345,"v":-0.0153},{"s":"k","t":0.353,"v":-0.013},{"s":"k","t":0.362,"v":-0.0106},{"s":"k","t":0.371,"v":-0.009},{"s":"k","t":0.38,"v":-0.0078},{"s":"k","t":0.387,"v":-0.009},{"s":"k","t":0.394,"v":-0.0115},{"s":"k","t":0.4,"v":-0.01},{"s":"k","t":0.407,"v":-0.0087},{"s":"k","t":0.416,"v":-0.007},{"s":"k","t":0.425,"v":-0.0059},{"s":"k","t":0.432,"v":-0.006},{"s":"k","t":0.438,"v":-0.0059},{"s":"k","t":0.445,"v":-0.004},{"s":"k","t":0.452,"v":-0.002},{"s":"k","t":0.457,"v":0.001},{"s":"k","t":0.461,"v":0.0043},{"s":"k","t":0.467,"v":0.004},{"s":"k","t":0.474,"v":0.0034},{"s":"k","t":0.481,"v":0.002},{"s":"k","t":0.488,"v":0.0015},{"s":"k","t":0.495,"v":0.001},{"s":"k","t":0.5,"v":0.0006},
{"s":"gy","t":-0.05,"v":-0.005},{"s":"gy","t":-0.042,"v":-0.004},{"s":"gy","t":-0.035,"v":-0.0045},{"s":"gy","t":-0.029,"v":-0.0033},{"s":"gy","t":-0.022,"v":-0.003},{"s":"gy","t":-0.016,"v":-0.002},{"s":"gy","t":-0.011,"v":-0.0004},{"s":"gy","t":-0.006,"v":-0.002},{"s":"gy","t":-0.002,"v":-0.001},{"s":"gy","t":0.0,"v":0.023},{"s":"gy","t":0.002,"v":0.0},{"s":"gy","t":0.004,"v":-0.005},{"s":"gy","t":0.008,"v":-0.004},{"s":"gy","t":0.012,"v":-0.008},{"s":"gy","t":0.0156,"v":-0.0097},{"s":"gy","t":0.022,"v":-0.009},{"s":"gy","t":0.029,"v":-0.0088},{"s":"gy","t":0.035,"v":-0.007},{"s":"gy","t":0.041,"v":-0.006},{"s":"gy","t":0.047,"v":-0.0041},{"s":"gy","t":0.054,"v":-0.003},{"s":"gy","t":0.06,"v":-0.0015},{"s":"gy","t":0.067,"v":-0.001},{"s":"gy","t":0.074,"v":0.0006},{"s":"gy","t":0.082,"v":0.002},{"s":"gy","t":0.09,"v":0.003},{"s":"gy","t":0.098,"v":0.005},{"s":"gy","t":0.105,"v":0.0061},{"s":"gy","t":0.112,"v":0.008},{"s":"gy","t":0.12,"v":0.0095},{"s":"gy","t":0.127,"v":0.011},{"s":"gy","t":0.134,"v":0.0125},{"s":"gy","t":0.14,"v":0.014},{"s":"gy","t":0.147,"v":0.0145},{"s":"gy","t":0.154,"v":0.013},{"s":"gy","t":0.161,"v":0.0136},{"s":"gy","t":0.168,"v":0.012},{"s":"gy","t":0.174,"v":0.011},{"s":"gy","t":0.182,"v":0.007},{"s":"gy","t":0.192,"v":0.0034},{"s":"gy","t":0.2,"v":0.001},{"s":"gy","t":0.21,"v":0.0004},{"s":"gy","t":0.22,"v":-0.001},{"s":"gy","t":0.23,"v":-0.002},{"s":"gy","t":0.24,"v":-0.0015},{"s":"gy","t":0.25,"v":-0.003},{"s":"gy","t":0.26,"v":-0.002},{"s":"gy","t":0.27,"v":-0.003},{"s":"gy","t":0.28,"v":-0.001},{"s":"gy","t":0.29,"v":-0.002},{"s":"gy","t":0.3,"v":-0.003},{"s":"gy","t":0.31,"v":-0.0015},{"s":"gy","t":0.32,"v":-0.002},{"s":"gy","t":0.33,"v":-0.001},{"s":"gy","t":0.34,"v":-0.002},{"s":"gy","t":0.35,"v":-0.0005},{"s":"gy","t":0.36,"v":-0.001},{"s":"gy","t":0.37,"v":-0.002},{"s":"gy","t":0.38,"v":-0.001},{"s":"gy","t":0.39,"v":0.0},{"s":"gy","t":0.4,"v":-0.001},{"s":"gy","t":0.41,"v":-0.0005},{"s":"gy","t":0.42,"v":0.0},{"s":"gy","t":0.43,"v":-0.001},{"s":"gy","t":0.44,"v":-0.004},{"s":"gy","t":0.45,"v":-0.005},{"s":"gy","t":0.46,"v":-0.003},{"s":"gy","t":0.47,"v":-0.004},{"s":"gy","t":0.48,"v":-0.002},{"s":"gy","t":0.49,"v":-0.002},{"s":"gy","t":0.5,"v":-0.0005},
{"s":"cy","t":-0.05,"v":-0.002},{"s":"cy","t":-0.04,"v":-0.003},{"s":"cy","t":-0.03,"v":-0.004},{"s":"cy","t":-0.02,"v":-0.005},{"s":"cy","t":-0.011,"v":-0.007},{"s":"cy","t":-0.005,"v":-0.005},{"s":"cy","t":0.0,"v":-0.004},{"s":"cy","t":0.01,"v":-0.006},{"s":"cy","t":0.02,"v":-0.008},{"s":"cy","t":0.03,"v":-0.009},{"s":"cy","t":0.038,"v":-0.0097},{"s":"cy","t":0.044,"v":-0.013},{"s":"cy","t":0.049,"v":-0.0163},{"s":"cy","t":0.056,"v":-0.02},{"s":"cy","t":0.061,"v":-0.024},{"s":"cy","t":0.065,"v":-0.0264},{"s":"cy","t":0.07,"v":-0.0255},{"s":"cy","t":0.075,"v":-0.023},{"s":"cy","t":0.081,"v":-0.019},{"s":"cy","t":0.087,"v":-0.013},{"s":"cy","t":0.094,"v":-0.0078},{"s":"cy","t":0.098,"v":-0.003},{"s":"cy","t":0.103,"v":0.0015},{"s":"cy","t":0.108,"v":0.006},{"s":"cy","t":0.112,"v":0.0108},{"s":"cy","t":0.117,"v":0.014},{"s":"cy","t":0.121,"v":0.0164},{"s":"cy","t":0.126,"v":0.017},{"s":"cy","t":0.13,"v":0.0173},{"s":"cy","t":0.135,"v":0.016},{"s":"cy","t":0.14,"v":0.0155},{"s":"cy","t":0.148,"v":0.0145},{"s":"cy","t":0.155,"v":0.012},{"s":"cy","t":0.161,"v":0.009},{"s":"cy","t":0.168,"v":0.006},{"s":"cy","t":0.174,"v":0.0033},{"s":"cy","t":0.183,"v":0.001},{"s":"cy","t":0.192,"v":-0.0004},{"s":"cy","t":0.2,"v":0.001},{"s":"cy","t":0.21,"v":0.003},{"s":"cy","t":0.22,"v":0.005},{"s":"cy","t":0.23,"v":0.004},{"s":"cy","t":0.24,"v":0.007},{"s":"cy","t":0.246,"v":0.0081},{"s":"cy","t":0.255,"v":0.006},{"s":"cy","t":0.264,"v":0.0075},{"s":"cy","t":0.273,"v":0.0071},{"s":"cy","t":0.282,"v":0.0085},{"s":"cy","t":0.29,"v":0.006},{"s":"cy","t":0.3,"v":0.007},{"s":"cy","t":0.31,"v":0.005},{"s":"cy","t":0.32,"v":0.006},{"s":"cy","t":0.33,"v":0.0075},{"s":"cy","t":0.34,"v":0.006},{"s":"cy","t":0.35,"v":0.008},{"s":"cy","t":0.362,"v":0.0089},{"s":"cy","t":0.372,"v":0.007},{"s":"cy","t":0.382,"v":0.005},{"s":"cy","t":0.392,"v":0.004},{"s":"cy","t":0.407,"v":0.0015},{"s":"cy","t":0.417,"v":0.0},{"s":"cy","t":0.43,"v":-0.001},{"s":"cy","t":0.443,"v":-0.002},{"s":"cy","t":0.455,"v":-0.0015},{"s":"cy","t":0.468,"v":-0.003},{"s":"cy","t":0.48,"v":-0.0035},{"s":"cy","t":0.49,"v":-0.004},{"s":"cy","t":0.5,"v":-0.0041},
{"s":"yl","t":-0.05,"v":-0.003},{"s":"yl","t":-0.04,"v":-0.001},{"s":"yl","t":-0.03,"v":-0.002},{"s":"yl","t":-0.02,"v":0.0},{"s":"yl","t":-0.01,"v":-0.002},{"s":"yl","t":0.0,"v":-0.001},{"s":"yl","t":0.01,"v":-0.002},{"s":"yl","t":0.02,"v":-0.003},{"s":"yl","t":0.028,"v":-0.003},{"s":"yl","t":0.033,"v":-0.0047},{"s":"yl","t":0.038,"v":-0.01},{"s":"yl","t":0.042,"v":-0.016},{"s":"yl","t":0.047,"v":-0.021},{"s":"yl","t":0.051,"v":-0.025},{"s":"yl","t":0.055,"v":-0.029},{"s":"yl","t":0.058,"v":-0.032},{"s":"yl","t":0.063,"v":-0.0325},{"s":"yl","t":0.067,"v":-0.033},{"s":"yl","t":0.072,"v":-0.029},{"s":"yl","t":0.078,"v":-0.0227},{"s":"yl","t":0.083,"v":-0.014},{"s":"yl","t":0.089,"v":-0.004},{"s":"yl","t":0.095,"v":0.005},{"s":"yl","t":0.1,"v":0.011},{"s":"yl","t":0.103,"v":0.0145},{"s":"yl","t":0.108,"v":0.02},{"s":"yl","t":0.112,"v":0.0238},{"s":"yl","t":0.116,"v":0.026},{"s":"yl","t":0.121,"v":0.0276},{"s":"yl","t":0.127,"v":0.027},{"s":"yl","t":0.134,"v":0.0257},{"s":"yl","t":0.14,"v":0.022},{"s":"yl","t":0.148,"v":0.0183},{"s":"yl","t":0.155,"v":0.017},{"s":"yl","t":0.161,"v":0.0164},{"s":"yl","t":0.168,"v":0.0165},{"s":"yl","t":0.174,"v":0.0164},{"s":"yl","t":0.18,"v":0.014},{"s":"yl","t":0.188,"v":0.011},{"s":"yl","t":0.195,"v":0.008},{"s":"yl","t":0.201,"v":0.0052},{"s":"yl","t":0.21,"v":0.002},{"s":"yl","t":0.219,"v":-0.0022},{"s":"yl","t":0.226,"v":-0.003},{"s":"yl","t":0.233,"v":-0.004},{"s":"yl","t":0.245,"v":-0.005},{"s":"yl","t":0.258,"v":-0.006},{"s":"yl","t":0.27,"v":-0.007},{"s":"yl","t":0.283,"v":-0.008},{"s":"yl","t":0.295,"v":-0.009},{"s":"yl","t":0.307,"v":-0.007},{"s":"yl","t":0.32,"v":-0.006},{"s":"yl","t":0.335,"v":-0.005},{"s":"yl","t":0.35,"v":-0.004},{"s":"yl","t":0.365,"v":-0.0045},{"s":"yl","t":0.38,"v":-0.003},{"s":"yl","t":0.395,"v":-0.004},{"s":"yl","t":0.41,"v":-0.002},{"s":"yl","t":0.425,"v":-0.003},{"s":"yl","t":0.44,"v":-0.002},{"s":"yl","t":0.455,"v":-0.001},{"s":"yl","t":0.47,"v":-0.002},{"s":"yl","t":0.485,"v":0.0},{"s":"yl","t":0.5,"v":-0.002},
{"s":"dg","t":-0.05,"v":-0.001},{"s":"dg","t":-0.04,"v":0.001},{"s":"dg","t":-0.03,"v":-0.001},{"s":"dg","t":-0.02,"v":0.0},{"s":"dg","t":-0.01,"v":-0.002},{"s":"dg","t":0.0,"v":-0.001},{"s":"dg","t":0.01,"v":0.001},{"s":"dg","t":0.02,"v":-0.002},{"s":"dg","t":0.03,"v":-0.004},{"s":"dg","t":0.04,"v":-0.007},{"s":"dg","t":0.048,"v":-0.012},{"s":"dg","t":0.054,"v":-0.016},{"s":"dg","t":0.058,"v":-0.0171},{"s":"dg","t":0.065,"v":-0.0175},{"s":"dg","t":0.072,"v":-0.018},{"s":"dg","t":0.077,"v":-0.017},{"s":"dg","t":0.081,"v":-0.0153},{"s":"dg","t":0.087,"v":-0.009},{"s":"dg","t":0.094,"v":-0.0022},{"s":"dg","t":0.1,"v":0.004},{"s":"dg","t":0.107,"v":0.009},{"s":"dg","t":0.113,"v":0.011},{"s":"dg","t":0.12,"v":0.012},{"s":"dg","t":0.127,"v":0.0115},{"s":"dg","t":0.134,"v":0.01},{"s":"dg","t":0.141,"v":0.008},{"s":"dg","t":0.148,"v":0.006},{"s":"dg","t":0.155,"v":0.004},{"s":"dg","t":0.165,"v":0.002},{"s":"dg","t":0.175,"v":0.0},{"s":"dg","t":0.185,"v":-0.001},{"s":"dg","t":0.195,"v":0.001},{"s":"dg","t":0.205,"v":0.0},{"s":"dg","t":0.215,"v":-0.002},{"s":"dg","t":0.225,"v":-0.001},{"s":"dg","t":0.235,"v":0.001},{"s":"dg","t":0.25,"v":0.002},{"s":"dg","t":0.265,"v":0.004},{"s":"dg","t":0.28,"v":0.005},{"s":"dg","t":0.295,"v":0.006},{"s":"dg","t":0.31,"v":0.004},{"s":"dg","t":0.325,"v":0.005},{"s":"dg","t":0.34,"v":0.003},{"s":"dg","t":0.355,"v":0.004},{"s":"dg","t":0.37,"v":0.002},{"s":"dg","t":0.385,"v":0.003},{"s":"dg","t":0.4,"v":0.001},{"s":"dg","t":0.415,"v":0.002},{"s":"dg","t":0.43,"v":0.0},{"s":"dg","t":0.445,"v":0.001},{"s":"dg","t":0.46,"v":-0.001},{"s":"dg","t":0.475,"v":0.0},{"s":"dg","t":0.49,"v":-0.001},{"s":"dg","t":0.5,"v":-0.002},
{"s":"db","t":-0.05,"v":0.004},{"s":"db","t":-0.04,"v":0.003},{"s":"db","t":-0.03,"v":0.002},{"s":"db","t":-0.02,"v":0.004},{"s":"db","t":-0.01,"v":0.002},{"s":"db","t":0.0,"v":0.0},{"s":"db","t":0.01,"v":0.001},{"s":"db","t":0.02,"v":-0.002},{"s":"db","t":0.03,"v":-0.004},{"s":"db","t":0.04,"v":-0.006},{"s":"db","t":0.05,"v":-0.007},{"s":"db","t":0.06,"v":-0.006},{"s":"db","t":0.07,"v":-0.004},{"s":"db","t":0.078,"v":-0.002},{"s":"db","t":0.085,"v":0.0},{"s":"db","t":0.092,"v":0.006},{"s":"db","t":0.098,"v":0.011},{"s":"db","t":0.103,"v":0.0164},{"s":"db","t":0.109,"v":0.021},{"s":"db","t":0.116,"v":0.0248},{"s":"db","t":0.123,"v":0.024},{"s":"db","t":0.13,"v":0.0229},{"s":"db","t":0.137,"v":0.021},{"s":"db","t":0.143,"v":0.0183},{"s":"db","t":0.152,"v":0.0145},{"s":"db","t":0.159,"v":0.011},{"s":"db","t":0.166,"v":0.007},{"s":"db","t":0.172,"v":0.003},{"s":"db","t":0.179,"v":-0.0004},{"s":"db","t":0.186,"v":-0.004},{"s":"db","t":0.192,"v":-0.0078},{"s":"db","t":0.2,"v":-0.009},{"s":"db","t":0.21,"v":-0.0087},{"s":"db","t":0.217,"v":-0.008},{"s":"db","t":0.224,"v":-0.0078},{"s":"db","t":0.229,"v":-0.0106},{"s":"db","t":0.234,"v":-0.012},{"s":"db","t":0.24,"v":-0.0105},{"s":"db","t":0.25,"v":-0.0087},{"s":"db","t":0.26,"v":-0.009},{"s":"db","t":0.27,"v":-0.0085},{"s":"db","t":0.28,"v":-0.0087},{"s":"db","t":0.29,"v":-0.009},{"s":"db","t":0.3,"v":-0.0087},{"s":"db","t":0.31,"v":-0.008},{"s":"db","t":0.32,"v":-0.0085},{"s":"db","t":0.33,"v":-0.007},{"s":"db","t":0.34,"v":-0.0065},{"s":"db","t":0.349,"v":-0.0059},{"s":"db","t":0.36,"v":-0.0055},{"s":"db","t":0.37,"v":-0.004},{"s":"db","t":0.38,"v":-0.003},{"s":"db","t":0.39,"v":-0.002},{"s":"db","t":0.398,"v":-0.0012},{"s":"db","t":0.41,"v":-0.001},{"s":"db","t":0.42,"v":-0.0015},{"s":"db","t":0.43,"v":-0.001},{"s":"db","t":0.44,"v":0.0},{"s":"db","t":0.45,"v":0.002},{"s":"db","t":0.461,"v":0.0052},{"s":"db","t":0.47,"v":0.004},{"s":"db","t":0.48,"v":0.003},{"s":"db","t":0.49,"v":0.0045},{"s":"db","t":0.5,"v":0.0035},
{"s":"bl","t":-0.05,"v":0.001},{"s":"bl","t":-0.04,"v":0.003},{"s":"bl","t":-0.03,"v":0.0},{"s":"bl","t":-0.02,"v":0.002},{"s":"bl","t":-0.01,"v":0.001},{"s":"bl","t":0.0,"v":-0.001},{"s":"bl","t":0.01,"v":0.0},{"s":"bl","t":0.02,"v":-0.002},{"s":"bl","t":0.03,"v":-0.004},{"s":"bl","t":0.04,"v":-0.005},{"s":"bl","t":0.05,"v":-0.004},{"s":"bl","t":0.06,"v":-0.005},{"s":"bl","t":0.07,"v":-0.003},{"s":"bl","t":0.08,"v":0.0},{"s":"bl","t":0.088,"v":0.006},{"s":"bl","t":0.095,"v":0.013},{"s":"bl","t":0.102,"v":0.02},{"s":"bl","t":0.108,"v":0.025},{"s":"bl","t":0.114,"v":0.0285},{"s":"bl","t":0.12,"v":0.027},{"s":"bl","t":0.125,"v":0.0255},{"s":"bl","t":0.13,"v":0.0238},{"s":"bl","t":0.137,"v":0.02},{"s":"bl","t":0.148,"v":0.0164},{"s":"bl","t":0.155,"v":0.013},{"s":"bl","t":0.161,"v":0.009},{"s":"bl","t":0.168,"v":0.006},{"s":"bl","t":0.174,"v":0.0033},{"s":"bl","t":0.183,"v":0.001},{"s":"bl","t":0.192,"v":-0.0013},{"s":"bl","t":0.2,"v":-0.003},{"s":"bl","t":0.21,"v":-0.004},{"s":"bl","t":0.22,"v":-0.003},{"s":"bl","t":0.23,"v":-0.0045},{"s":"bl","t":0.24,"v":-0.003},{"s":"bl","t":0.25,"v":-0.0035},{"s":"bl","t":0.26,"v":-0.002},{"s":"bl","t":0.27,"v":-0.004},{"s":"bl","t":0.28,"v":-0.003},{"s":"bl","t":0.29,"v":-0.005},{"s":"bl","t":0.3,"v":-0.007},{"s":"bl","t":0.31,"v":-0.006},{"s":"bl","t":0.32,"v":-0.004},{"s":"bl","t":0.33,"v":-0.003},{"s":"bl","t":0.34,"v":-0.004},{"s":"bl","t":0.35,"v":-0.002},{"s":"bl","t":0.36,"v":-0.003},{"s":"bl","t":0.37,"v":-0.001},{"s":"bl","t":0.38,"v":-0.002},{"s":"bl","t":0.39,"v":0.0},{"s":"bl","t":0.4,"v":-0.001},{"s":"bl","t":0.41,"v":0.001},{"s":"bl","t":0.42,"v":0.0},{"s":"bl","t":0.43,"v":0.002},{"s":"bl","t":0.44,"v":0.001},{"s":"bl","t":0.45,"v":0.003},{"s":"bl","t":0.46,"v":0.002},{"s":"bl","t":0.47,"v":0.004},{"s":"bl","t":0.48,"v":0.005},{"s":"bl","t":0.49,"v":0.004},{"s":"bl","t":0.5,"v":0.006},
{"s":"pu","t":-0.05,"v":0.001},{"s":"pu","t":-0.035,"v":0.0},{"s":"pu","t":-0.02,"v":0.002},{"s":"pu","t":-0.01,"v":0.001},{"s":"pu","t":0.0,"v":0.0},{"s":"pu","t":0.01,"v":-0.002},{"s":"pu","t":0.02,"v":-0.003},{"s":"pu","t":0.03,"v":-0.005},{"s":"pu","t":0.04,"v":-0.006},{"s":"pu","t":0.05,"v":-0.005},{"s":"pu","t":0.06,"v":-0.004},{"s":"pu","t":0.07,"v":-0.002},{"s":"pu","t":0.08,"v":0.001},{"s":"pu","t":0.09,"v":0.003},{"s":"pu","t":0.1,"v":0.005},{"s":"pu","t":0.11,"v":0.007},{"s":"pu","t":0.12,"v":0.006},{"s":"pu","t":0.13,"v":0.004},{"s":"pu","t":0.14,"v":0.003},{"s":"pu","t":0.15,"v":0.002},{"s":"pu","t":0.16,"v":0.003},{"s":"pu","t":0.17,"v":0.001},{"s":"pu","t":0.18,"v":0.002},{"s":"pu","t":0.19,"v":0.0},{"s":"pu","t":0.2,"v":0.001},{"s":"pu","t":0.215,"v":-0.001},{"s":"pu","t":0.23,"v":0.0},{"s":"pu","t":0.245,"v":0.001},{"s":"pu","t":0.26,"v":0.002},{"s":"pu","t":0.275,"v":0.001},{"s":"pu","t":0.29,"v":0.003},{"s":"pu","t":0.305,"v":0.004},{"s":"pu","t":0.32,"v":0.005},{"s":"pu","t":0.335,"v":0.004},{"s":"pu","t":0.35,"v":0.003},{"s":"pu","t":0.365,"v":0.005},{"s":"pu","t":0.38,"v":0.004},{"s":"pu","t":0.395,"v":0.002},{"s":"pu","t":0.41,"v":0.003},{"s":"pu","t":0.425,"v":0.001},{"s":"pu","t":0.44,"v":0.002},{"s":"pu","t":0.455,"v":0.0},{"s":"pu","t":0.47,"v":0.001},{"s":"pu","t":0.485,"v":-0.001},{"s":"pu","t":0.5,"v":0.0},
{"s":"mg","t":-0.05,"v":0.004},{"s":"mg","t":-0.035,"v":0.005},{"s":"mg","t":-0.02,"v":0.003},{"s":"mg","t":-0.01,"v":0.005},{"s":"mg","t":0.0,"v":0.004},{"s":"mg","t":0.01,"v":0.006},{"s":"mg","t":0.02,"v":0.004},{"s":"mg","t":0.03,"v":0.002},{"s":"mg","t":0.04,"v":0.003},{"s":"mg","t":0.05,"v":0.001},{"s":"mg","t":0.06,"v":0.002},{"s":"mg","t":0.07,"v":0.004},{"s":"mg","t":0.08,"v":0.003},{"s":"mg","t":0.09,"v":0.005},{"s":"mg","t":0.1,"v":0.004},{"s":"mg","t":0.11,"v":0.005},{"s":"mg","t":0.12,"v":0.003},{"s":"mg","t":0.13,"v":0.004},{"s":"mg","t":0.14,"v":0.002},{"s":"mg","t":0.155,"v":0.003},{"s":"mg","t":0.17,"v":0.001},{"s":"mg","t":0.185,"v":0.002},{"s":"mg","t":0.2,"v":0.0},{"s":"mg","t":0.215,"v":0.002},{"s":"mg","t":0.23,"v":0.001},{"s":"mg","t":0.245,"v":0.003},{"s":"mg","t":0.26,"v":0.002},{"s":"mg","t":0.275,"v":0.004},{"s":"mg","t":0.29,"v":0.003},{"s":"mg","t":0.305,"v":0.004},{"s":"mg","t":0.32,"v":0.002},{"s":"mg","t":0.335,"v":0.003},{"s":"mg","t":0.35,"v":0.004},{"s":"mg","t":0.365,"v":0.002},{"s":"mg","t":0.38,"v":0.003},{"s":"mg","t":0.395,"v":0.001},{"s":"mg","t":0.41,"v":0.002},{"s":"mg","t":0.425,"v":0.003},{"s":"mg","t":0.44,"v":0.002},{"s":"mg","t":0.455,"v":0.004},{"s":"mg","t":0.47,"v":0.005},{"s":"mg","t":0.485,"v":0.003},{"s":"mg","t":0.5,"v":0.002},
{"s":"pk","t":-0.05,"v":0.003},{"s":"pk","t":-0.035,"v":0.002},{"s":"pk","t":-0.02,"v":0.004},{"s":"pk","t":-0.01,"v":0.002},{"s":"pk","t":0.0,"v":0.003},{"s":"pk","t":0.01,"v":0.001},{"s":"pk","t":0.02,"v":0.002},{"s":"pk","t":0.03,"v":0.0},{"s":"pk","t":0.04,"v":0.001},{"s":"pk","t":0.05,"v":-0.001},{"s":"pk","t":0.06,"v":0.001},{"s":"pk","t":0.07,"v":0.003},{"s":"pk","t":0.08,"v":0.005},{"s":"pk","t":0.09,"v":0.004},{"s":"pk","t":0.1,"v":0.006},{"s":"pk","t":0.11,"v":0.008},{"s":"pk","t":0.12,"v":0.006},{"s":"pk","t":0.13,"v":0.005},{"s":"pk","t":0.14,"v":0.007},{"s":"pk","t":0.155,"v":0.004},{"s":"pk","t":0.17,"v":0.003},{"s":"pk","t":0.185,"v":0.001},{"s":"pk","t":0.2,"v":0.002},{"s":"pk","t":0.215,"v":0.0},{"s":"pk","t":0.23,"v":-0.002},{"s":"pk","t":0.245,"v":-0.003},{"s":"pk","t":0.26,"v":-0.002},{"s":"pk","t":0.275,"v":-0.004},{"s":"pk","t":0.29,"v":-0.003},{"s":"pk","t":0.305,"v":-0.005},{"s":"pk","t":0.32,"v":-0.004},{"s":"pk","t":0.335,"v":-0.006},{"s":"pk","t":0.35,"v":-0.004},{"s":"pk","t":0.365,"v":-0.003},{"s":"pk","t":0.38,"v":-0.005},{"s":"pk","t":0.395,"v":-0.004},{"s":"pk","t":0.41,"v":-0.002},{"s":"pk","t":0.425,"v":-0.003},{"s":"pk","t":0.44,"v":-0.001},{"s":"pk","t":0.455,"v":-0.002},{"s":"pk","t":0.47,"v":0.0},{"s":"pk","t":0.485,"v":-0.001},{"s":"pk","t":0.5,"v":0.0},
{"s":"rd","t":-0.05,"v":0.006},{"s":"rd","t":-0.035,"v":0.005},{"s":"rd","t":-0.02,"v":0.003},{"s":"rd","t":-0.01,"v":0.004},{"s":"rd","t":0.0,"v":0.002},{"s":"rd","t":0.01,"v":0.0},{"s":"rd","t":0.02,"v":-0.002},{"s":"rd","t":0.03,"v":-0.004},{"s":"rd","t":0.04,"v":-0.006},{"s":"rd","t":0.05,"v":-0.0085},{"s":"rd","t":0.06,"v":-0.0088},{"s":"rd","t":0.07,"v":-0.007},{"s":"rd","t":0.08,"v":-0.004},{"s":"rd","t":0.09,"v":-0.001},{"s":"rd","t":0.1,"v":0.001},{"s":"rd","t":0.11,"v":0.003},{"s":"rd","t":0.12,"v":0.002},{"s":"rd","t":0.13,"v":0.004},{"s":"rd","t":0.14,"v":0.003},{"s":"rd","t":0.155,"v":0.002},{"s":"rd","t":0.17,"v":0.001},{"s":"rd","t":0.185,"v":0.0},{"s":"rd","t":0.2,"v":0.002},{"s":"rd","t":0.215,"v":0.001},{"s":"rd","t":0.23,"v":0.003},{"s":"rd","t":0.245,"v":0.002},{"s":"rd","t":0.26,"v":0.004},{"s":"rd","t":0.275,"v":0.005},{"s":"rd","t":0.29,"v":0.003},{"s":"rd","t":0.305,"v":0.002},{"s":"rd","t":0.32,"v":0.001},{"s":"rd","t":0.335,"v":0.0},{"s":"rd","t":0.35,"v":0.001},{"s":"rd","t":0.365,"v":-0.001},{"s":"rd","t":0.38,"v":0.0},{"s":"rd","t":0.395,"v":0.002},{"s":"rd","t":0.41,"v":0.004},{"s":"rd","t":0.425,"v":0.003},{"s":"rd","t":0.44,"v":0.005},{"s":"rd","t":0.455,"v":0.007},{"s":"rd","t":0.47,"v":0.004},{"s":"rd","t":0.485,"v":0.005},{"s":"rd","t":0.5,"v":0.004},
{"s":"or","t":-0.05,"v":0.004},{"s":"or","t":-0.035,"v":0.006},{"s":"or","t":-0.02,"v":0.004},{"s":"or","t":-0.01,"v":0.005},{"s":"or","t":0.0,"v":0.003},{"s":"or","t":0.01,"v":0.004},{"s":"or","t":0.02,"v":0.002},{"s":"or","t":0.03,"v":0.003},{"s":"or","t":0.04,"v":0.001},{"s":"or","t":0.05,"v":0.002},{"s":"or","t":0.06,"v":0.0},{"s":"or","t":0.07,"v":-0.001},{"s":"or","t":0.08,"v":-0.003},{"s":"or","t":0.09,"v":-0.002},{"s":"or","t":0.1,"v":-0.004},{"s":"or","t":0.11,"v":-0.003},{"s":"or","t":0.12,"v":-0.001},{"s":"or","t":0.13,"v":0.0},{"s":"or","t":0.14,"v":0.002},{"s":"or","t":0.155,"v":0.001},{"s":"or","t":0.17,"v":0.003},{"s":"or","t":0.185,"v":0.002},{"s":"or","t":0.2,"v":0.004},{"s":"or","t":0.215,"v":0.002},{"s":"or","t":0.23,"v":0.003},{"s":"or","t":0.245,"v":0.001},{"s":"or","t":0.26,"v":0.002},{"s":"or","t":0.275,"v":0.0},{"s":"or","t":0.29,"v":0.002},{"s":"or","t":0.305,"v":0.001},{"s":"or","t":0.32,"v":0.003},{"s":"or","t":0.335,"v":0.002},{"s":"or","t":0.35,"v":0.001},{"s":"or","t":0.365,"v":0.0},{"s":"or","t":0.38,"v":0.002},{"s":"or","t":0.395,"v":0.001},{"s":"or","t":0.41,"v":0.003},{"s":"or","t":0.425,"v":0.004},{"s":"or","t":0.44,"v":0.002},{"s":"or","t":0.455,"v":0.003},{"s":"or","t":0.47,"v":0.001},{"s":"or","t":0.485,"v":0.002},{"s":"or","t":0.5,"v":0.001},
{"s":"lg","t":-0.05,"v":-0.002},{"s":"lg","t":-0.035,"v":0.001},{"s":"lg","t":-0.02,"v":0.0},{"s":"lg","t":-0.01,"v":0.003},{"s":"lg","t":0.0,"v":0.004},{"s":"lg","t":0.01,"v":0.006},{"s":"lg","t":0.02,"v":0.0075},{"s":"lg","t":0.03,"v":0.007},{"s":"lg","t":0.04,"v":0.008},{"s":"lg","t":0.05,"v":0.006},{"s":"lg","t":0.06,"v":0.007},{"s":"lg","t":0.07,"v":0.005},{"s":"lg","t":0.08,"v":0.004},{"s":"lg","t":0.09,"v":0.002},{"s":"lg","t":0.1,"v":0.003},{"s":"lg","t":0.11,"v":0.001},{"s":"lg","t":0.12,"v":-0.001},{"s":"lg","t":0.13,"v":-0.002},{"s":"lg","t":0.14,"v":-0.004},{"s":"lg","t":0.155,"v":-0.005},{"s":"lg","t":0.17,"v":-0.006},{"s":"lg","t":0.185,"v":-0.0065},{"s":"lg","t":0.2,"v":-0.005},{"s":"lg","t":0.215,"v":-0.006},{"s":"lg","t":0.23,"v":-0.004},{"s":"lg","t":0.245,"v":-0.005},{"s":"lg","t":0.26,"v":-0.003},{"s":"lg","t":0.275,"v":-0.004},{"s":"lg","t":0.29,"v":-0.002},{"s":"lg","t":0.305,"v":-0.003},{"s":"lg","t":0.32,"v":-0.001},{"s":"lg","t":0.335,"v":0.001},{"s":"lg","t":0.35,"v":0.0},{"s":"lg","t":0.365,"v":0.002},{"s":"lg","t":0.38,"v":0.003},{"s":"lg","t":0.395,"v":0.005},{"s":"lg","t":0.41,"v":0.006},{"s":"lg","t":0.425,"v":0.004},{"s":"lg","t":0.44,"v":0.005},{"s":"lg","t":0.455,"v":0.006},{"s":"lg","t":0.47,"v":0.004},{"s":"lg","t":0.485,"v":0.006},{"s":"lg","t":0.5,"v":0.005},
{"s":"gn","t":-0.05,"v":-0.003},{"s":"gn","t":-0.035,"v":-0.002},{"s":"gn","t":-0.02,"v":-0.003},{"s":"gn","t":-0.01,"v":-0.001},{"s":"gn","t":0.0,"v":-0.002},{"s":"gn","t":0.01,"v":0.0},{"s":"gn","t":0.02,"v":-0.001},{"s":"gn","t":0.03,"v":0.001},{"s":"gn","t":0.04,"v":-0.001},{"s":"gn","t":0.05,"v":0.0},{"s":"gn","t":0.06,"v":0.001},{"s":"gn","t":0.07,"v":-0.001},{"s":"gn","t":0.08,"v":0.0},{"s":"gn","t":0.09,"v":0.002},{"s":"gn","t":0.1,"v":0.001},{"s":"gn","t":0.11,"v":-0.001},{"s":"gn","t":0.12,"v":0.0},{"s":"gn","t":0.13,"v":-0.002},{"s":"gn","t":0.14,"v":-0.001},{"s":"gn","t":0.155,"v":0.001},{"s":"gn","t":0.17,"v":0.002},{"s":"gn","t":0.185,"v":0.003},{"s":"gn","t":0.2,"v":0.004},{"s":"gn","t":0.215,"v":0.005},{"s":"gn","t":0.23,"v":0.004},{"s":"gn","t":0.245,"v":0.006},{"s":"gn","t":0.26,"v":0.005},{"s":"gn","t":0.275,"v":0.006},{"s":"gn","t":0.29,"v":0.004},{"s":"gn","t":0.305,"v":0.005},{"s":"gn","t":0.32,"v":0.006},{"s":"gn","t":0.335,"v":0.005},{"s":"gn","t":0.35,"v":0.006},{"s":"gn","t":0.365,"v":0.004},{"s":"gn","t":0.38,"v":0.005},{"s":"gn","t":0.395,"v":0.003},{"s":"gn","t":0.41,"v":0.004},{"s":"gn","t":0.425,"v":0.002},{"s":"gn","t":0.44,"v":0.003},{"s":"gn","t":0.455,"v":0.004},{"s":"gn","t":0.47,"v":0.002},{"s":"gn","t":0.485,"v":0.003},{"s":"gn","t":0.5,"v":0.004}
],
"electrodes": [
{"s":"k","x":10.3,"y":1.67},{"s":"mg","x":6.3,"y":6.9},{"s":"pk","x":8.9,"y":12.13},{"s":"rd","x":5.63,"y":16.0},{"s":"or","x":8.23,"y":21.3},{"s":"yl","x":5.03,"y":24.47},{"s":"lg","x":6.97,"y":29.73},{"s":"gn","x":3.63,"y":33.07},{"s":"dg","x":3.63,"y":35.0},{"s":"cy","x":2.87,"y":42.8},{"s":"pu","x":5.63,"y":46.73},{"s":"bl","x":5.03,"y":48.67},{"s":"db","x":1.7,"y":52.67},{"s":"gy","x":1.63,"y":54.57}
],
"arrows": [
{"s":"db","x":1.7,"y":52.67,"x2":5.68,"y2":49.73},
{"s":"bl","x":5.03,"y":48.67,"x2":2.79,"y2":44.4},
{"s":"pu","x":5.63,"y":46.73,"x2":3.73,"y2":36.75},
{"s":"cy","x":2.87,"y":42.8,"x2":6.99,"y2":40.41},
{"s":"dg","x":3.63,"y":35.0,"x2":7.13,"y2":39.68},
{"s":"gn","x":3.63,"y":33.07,"x2":7.62,"y2":31.3},
{"s":"lg","x":6.97,"y":29.73,"x2":4.12,"y2":25.69},
{"s":"yl","x":5.03,"y":24.47,"x2":8.98,"y2":22.34},
{"s":"or","x":8.23,"y":21.3,"x2":5.44,"y2":17.19},
{"s":"rd","x":5.63,"y":16.0,"x2":9.64,"y2":13.84},
{"s":"pk","x":8.9,"y":12.13,"x2":6.12,"y2":8.19},
{"s":"mg","x":6.3,"y":6.9,"x2":10.23,"y2":2.97},
{"s":"k","x":1.63,"y":1.67,"x2":1.63,"y2":51.3},
{"s":"gy","x":10.13,"y":54.57,"x2":10.13,"y2":5.23}
],
"links": [
{"s":"k","x":10.3,"y":1.67,"x2":1.63,"y2":1.67},
{"s":"gy","x":1.63,"y":54.57,"x2":10.13,"y2":54.57}
]
},
"spacing": 0,
"vconcat": [
 {"width": 660, "height": 0.5, "data": {"values": []}, "mark": "rule", "encoding": {}, "view": {"stroke": "#333333", "strokeWidth": 2}},
 {
  "spacing": 4,
  "resolve": {"scale": {"x": "independent", "y": "independent"}},
  "hconcat": [
   {
    "spacing": 20,
    "resolve": {"scale": {"x": "independent", "y": "independent"}},
    "hconcat": [
     {"width": 0.5, "height": 560, "data": {"values": []}, "mark": "rule", "encoding": {}, "view": {"stroke": "#000000", "strokeWidth": 2}},
     {
      "bounds": "flush",
      "spacing": 44.5,
      "resolve": {"scale": {"x": "independent", "y": "independent"}},
      "vconcat": [
       {"width": 409, "height": 1, "data": {"values": []}, "mark": "rule", "encoding": {}},
       {
        "bounds": "flush",
        "spacing": 133,
        "resolve": {"scale": {"x": "independent", "y": "independent"}},
        "vconcat": [
         {
          "width": 409, "height": 158,
          "title": {"text": "AD15"},
          "data": {"name": "ad15"},
          "encoding": {
           "x": {"field": "t", "type": "quantitative", "scale": {"domain": [-0.05, 0.5], "nice": false, "zero": false},
                 "axis": {"title": null, "values": [0, 0.05, 0.1, 0.15, 0.2, 0.25, 0.3, 0.35, 0.4, 0.45, 0.5], "labelPadding": 5,
                          "labelExpr": "abs(datum.value) < 1e-6 ? '0' : abs(datum.value - 0.2) < 1e-6 ? '0.2' : abs(datum.value - 0.4) < 1e-6 ? '0.4' : ''"}},
           "y": {"field": "v", "type": "quantitative", "scale": {"domain": [-0.0435, 0.0455], "nice": false, "zero": false},
                 "axis": {"title": "Millivolts", "titleFontSize": 21, "titleFontWeight": "bold", "titleAngle": 270, "titleX": -74.5, "titleY": 230, "titleAlign": "center", "titleBaseline": "middle",
                          "values": [-0.04, -0.03, -0.02, -0.01, 0, 0.01, 0.02, 0.03, 0.04], "labelPadding": 2,
                          "labelExpr": "abs(datum.value - 0.04) < 1e-6 ? '0.04' : abs(datum.value) < 1e-6 ? '0' : abs(datum.value + 0.04) < 1e-6 ? '-0.04' : ''"}},
           "color": {"field": "s", "type": "nominal", "legend": null,
                     "scale": {"domain": ["k","gy","mg","pk","rd","or","yl","lg","gn","dg","cy","bl","db","pu"],
                               "range": ["#000000","#8a8a8a","#ff1aff","#ff7eb6","#ff1a1a","#ffa31a","#cccc00","#a3e04a","#33cc33","#12a04a","#1ec3d8","#2288ff","#0a0aff","#8a35d0"]}}
          },
          "layer": [
           {"transform": [{"filter": "datum.s != 'k' && datum.s != 'gy'"}], "mark": {"type": "line", "strokeWidth": 3, "strokeJoin": "round"}},
           {"transform": [{"filter": "datum.s == 'k'"}], "mark": {"type": "line", "strokeWidth": 3.5, "strokeJoin": "round"}},
           {"transform": [{"filter": "datum.s == 'gy'"}], "mark": {"type": "line", "strokeWidth": 3.5, "strokeJoin": "round"}}
          ]
         },
         {
          "width": 409, "height": 158,
          "title": {"text": "AD16"},
          "data": {"name": "ad16"},
          "encoding": {
           "x": {"field": "t", "type": "quantitative", "scale": {"domain": [-0.05, 0.5], "nice": false, "zero": false},
                 "axis": {"title": "Time (sec)", "titleFontSize": 22, "titleFontWeight": "normal", "titleY": 52, "titleBaseline": "alphabetic",
                          "values": [0, 0.05, 0.1, 0.15, 0.2, 0.25, 0.3, 0.35, 0.4, 0.45, 0.5], "labelPadding": 5,
                          "labelExpr": "abs(datum.value) < 1e-6 ? '0' : abs(datum.value - 0.2) < 1e-6 ? '0.2' : abs(datum.value - 0.4) < 1e-6 ? '0.4' : ''"}},
           "y": {"field": "v", "type": "quantitative", "scale": {"domain": [-0.0435, 0.0455], "nice": false, "zero": false},
                 "axis": {"title": null, "values": [-0.04, -0.03, -0.02, -0.01, 0, 0.01, 0.02, 0.03, 0.04], "labelPadding": 2,
                          "labelExpr": "abs(datum.value - 0.04) < 1e-6 ? '0.04' : abs(datum.value) < 1e-6 ? '0' : abs(datum.value + 0.04) < 1e-6 ? '-0.04' : ''"}},
           "color": {"field": "s", "type": "nominal", "legend": null,
                     "scale": {"domain": ["k","gy","mg","pk","rd","or","yl","lg","gn","dg","cy","bl","db","pu"],
                               "range": ["#000000","#8a8a8a","#ff1aff","#ff7eb6","#ff1a1a","#ffa31a","#cccc00","#a3e04a","#33cc33","#12a04a","#1ec3d8","#2288ff","#0a0aff","#8a35d0"]}}
          },
          "layer": [
           {"transform": [{"filter": "datum.s != 'k' && datum.s != 'gy'"}], "mark": {"type": "line", "strokeWidth": 3, "strokeJoin": "round"}},
           {"transform": [{"filter": "datum.s == 'k'"}], "mark": {"type": "line", "strokeWidth": 3.5, "strokeJoin": "round"}},
           {"transform": [{"filter": "datum.s == 'gy'"}], "mark": {"type": "line", "strokeWidth": 3.5, "strokeJoin": "round"}}
          ]
         }
        ]
       }
      ]
     }
    ]
   },
   {
    "width": 140, "height": 570,
    "view": {"stroke": "#c8c8c8", "strokeWidth": 1},
    "encoding": {
     "x": {"field": "x", "type": "quantitative", "scale": {"domain": [0.05, 14.05], "nice": false, "zero": false}, "axis": null},
     "y": {"field": "y", "type": "quantitative", "scale": {"domain": [0.15, 57.15], "reverse": true, "nice": false, "zero": false}, "axis": null},
     "color": {"field": "s", "type": "nominal", "legend": null,
               "scale": {"domain": ["k","gy","mg","pk","rd","or","yl","lg","gn","dg","cy","bl","db","pu"],
                         "range": ["#000000","#8a8a8a","#ff1aff","#ff7eb6","#ff1a1a","#ffa31a","#cccc00","#a3e04a","#33cc33","#12a04a","#1ec3d8","#2288ff","#0a0aff","#8a35d0"]}}
    },
    "layer": [
     {"data": {"name": "links"}, "mark": {"type": "rule", "strokeWidth": 3}, "encoding": {"x2": {"field": "x2"}, "y2": {"field": "y2"}}},
     {"data": {"name": "arrows"}, "mark": {"type": "rule", "strokeWidth": 3}, "encoding": {"x2": {"field": "x2"}, "y2": {"field": "y2"}}},
     {"data": {"name": "arrows"},
      "transform": [{"calculate": "atan2(datum.x2 - datum.x, datum.y - datum.y2) * 180 / PI", "as": "ang"}],
      "mark": {"type": "point", "shape": "triangle-up", "filled": true, "opacity": 1, "size": 160, "strokeWidth": 0},
      "encoding": {"x": {"field": "x2", "type": "quantitative"}, "y": {"field": "y2", "type": "quantitative"}, "angle": {"field": "ang", "type": "quantitative", "scale": null}}},
     {"data": {"name": "electrodes"}, "mark": {"type": "circle", "size": 190, "opacity": 1}},
     {"data": {"values": [{"label": "Dorsal", "x": 5.55, "y": 2.9}, {"label": "Ventral", "x": 6.22, "y": 52.9}]},
      "mark": {"type": "text", "font": "Liberation Sans", "fontWeight": "bold", "fontSize": 18, "align": "center", "baseline": "middle"},
      "encoding": {"text": {"field": "label"}, "color": {"value": "#000"}}},
     {"data": {"values": [{"label": "Medial", "x": 3.3, "y": 9.57}, {"label": "Lateral", "x": 8.3, "y": 46.65}]},
      "mark": {"type": "text", "font": "Liberation Sans", "fontWeight": "bold", "fontSize": 18, "align": "center", "baseline": "middle", "angle": 270},
      "encoding": {"text": {"field": "label"}, "color": {"value": "#000"}}}
    ]
   }
  ]
 }
]
}
